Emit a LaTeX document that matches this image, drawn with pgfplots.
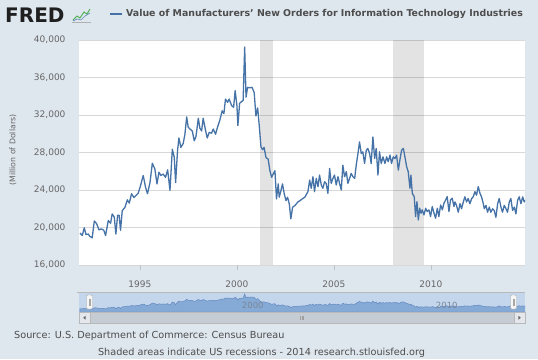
\documentclass[border=0pt]{standalone}
\usepackage{pgfplots}
\pgfplotsset{compat=1.18}
\usepackage{pgfplotstable}
\usepackage{fontspec}
\setmainfont{DejaVu Sans}
\definecolor{bgcol}{HTML}{DEE6EE}
\definecolor{linecol}{HTML}{4572A7}
\definecolor{gridcol}{HTML}{D8D8D8}
\definecolor{tickcol}{HTML}{666666}
\definecolor{titlecol}{HTML}{4D4D4D}
\definecolor{navbg}{HTML}{C3D6EC}
\definecolor{navfill}{HTML}{86AAD6}
\definecolor{navline}{HTML}{6489C0}
\definecolor{navtext}{HTML}{7A8796}
\definecolor{scrollcol}{HTML}{C6CCD3}
\definecolor{scrollbtn}{HTML}{E4E8EC}

\pgfplotstableread{
x y
1991.91 19400
1992.03 19150
1992.13 19970
1992.22 19250
1992.34 19300
1992.42 19050
1992.54 18900
1992.65 20700
1992.77 20400
1992.89 19750
1993.02 19850
1993.14 19700
1993.23 19150
1993.37 20750
1993.49 20450
1993.57 21450
1993.68 21100
1993.76 19300
1993.85 21300
1993.93 21300
1994.00 19700
1994.09 21800
1994.23 22150
1994.35 22950
1994.45 22600
1994.57 23600
1994.69 23200
1994.79 23400
1994.91 23650
1995.03 24450
1995.17 25550
1995.29 24300
1995.39 23600
1995.52 24800
1995.64 26850
1995.77 26250
1995.88 24650
1995.98 25900
1996.08 25550
1996.20 25700
1996.32 25350
1996.43 26150
1996.55 23950
1996.67 28350
1996.77 27500
1996.84 24800
1996.94 28200
1997.01 29550
1997.11 28550
1997.23 28950
1997.32 29950
1997.41 31800
1997.49 30700
1997.58 30500
1997.70 30300
1997.80 29250
1997.89 29700
1998.01 31650
1998.09 30600
1998.18 30300
1998.26 31650
1998.39 30300
1998.47 29550
1998.57 30150
1998.69 30050
1998.78 30500
1998.90 29950
1999.00 30700
1999.12 31450
1999.24 32450
1999.33 32150
1999.41 33700
1999.52 33350
1999.60 33700
1999.73 33000
1999.83 32830
1999.91 34600
2000.00 33010
2000.05 30870
2000.14 33250
2000.25 33450
2000.32 33550
2000.40 39250
2000.47 33900
2000.55 34950
2000.66 34900
2000.78 34950
2000.89 34400
2000.98 31900
2001.07 32750
2001.15 30900
2001.24 28600
2001.32 28300
2001.40 28550
2001.50 27450
2001.61 27300
2001.70 26060
2001.79 25350
2001.87 25710
2001.96 26060
2002.04 23050
2002.13 24650
2002.18 23230
2002.27 23940
2002.35 24650
2002.44 23580
2002.53 22870
2002.61 23230
2002.70 22520
2002.78 20920
2002.87 22160
2002.99 22340
2003.13 22700
2003.25 22870
2003.37 23050
2003.50 23230
2003.60 23600
2003.66 23820
2003.75 25060
2003.83 24180
2003.92 25420
2004.00 23820
2004.09 25240
2004.18 24350
2004.26 25590
2004.35 24530
2004.43 24180
2004.52 24880
2004.60 24710
2004.69 23650
2004.78 26300
2004.86 24710
2004.95 25240
2005.03 25590
2005.12 24530
2005.21 25420
2005.29 24710
2005.38 24000
2005.46 26650
2005.55 25420
2005.64 25950
2005.72 24710
2005.81 25240
2005.89 25770
2005.98 25420
2006.07 25240
2006.15 26650
2006.24 27890
2006.32 29130
2006.41 27890
2006.49 28070
2006.58 26830
2006.67 28250
2006.75 28430
2006.84 27890
2006.92 26830
2007.01 29660
2007.10 27360
2007.18 28430
2007.27 25590
2007.35 28070
2007.44 26830
2007.53 27540
2007.63 26830
2007.72 27540
2007.80 27010
2007.89 27720
2007.97 26830
2008.06 27540
2008.15 27360
2008.23 27720
2008.32 26120
2008.40 27190
2008.49 28250
2008.58 28430
2008.66 27540
2008.75 26480
2008.83 25950
2008.92 24180
2008.97 25590
2009.04 23650
2009.14 23290
2009.21 21170
2009.28 22760
2009.35 20810
2009.42 22050
2009.49 21520
2009.55 21880
2009.64 21340
2009.73 22050
2009.81 21700
2009.90 21880
2009.98 21170
2010.07 22230
2010.16 21520
2010.24 20990
2010.33 22050
2010.41 21170
2010.50 22410
2010.59 21880
2010.67 22580
2010.76 22940
2010.84 23290
2010.93 21700
2011.01 22940
2011.10 23120
2011.19 22230
2011.24 22730
2011.32 22360
2011.41 21630
2011.50 22540
2011.58 22000
2011.67 22730
2011.75 23270
2011.84 22730
2011.92 23090
2012.01 22540
2012.10 23090
2012.18 23270
2012.27 23820
2012.35 23450
2012.44 24360
2012.53 23640
2012.61 23270
2012.70 22540
2012.75 22000
2012.84 22360
2012.92 21630
2013.01 22180
2013.09 21630
2013.18 22000
2013.26 21820
2013.35 21090
2013.44 22540
2013.52 23090
2013.61 22180
2013.69 21630
2013.78 22360
2013.87 22000
2013.95 21630
2014.04 22730
2014.12 23090
2014.21 21820
2014.30 22180
2014.38 21450
2014.47 22910
2014.55 23270
2014.64 22540
2014.73 23270
2014.81 22730
2014.88 22910
}\datatable

\begin{document}
\begin{tikzpicture}[x=1pt,y=1pt]
\useasboundingbox (0,0) rectangle (538,-359);
\fill[bgcol] (0,0) rectangle (538,-359);

% header
\node[anchor=west, inner sep=0pt, font=\fontsize{20}{22}\selectfont\bfseries, text=black!88] at (5,-15.5) {FRED};
\draw[gray!60, line width=0.4pt] (72,-22) -- (91,-22);
\draw[green!55!black!70, line width=0.9pt] (73,-20) -- (77,-16) -- (80,-18) -- (84,-12) -- (87,-14) -- (90,-9);
\draw[linecol!80, line width=0.7pt] (73,-21) -- (77,-19) -- (81,-20) -- (85,-16) -- (90,-13);
\draw[linecol, line width=1.8pt] (110,-14) -- (122,-14);
\node[anchor=west, inner sep=0pt, font=\fontsize{9.4}{11}\selectfont\bfseries, text=titlecol] at (126,-14) {Value of Manufacturers' New Orders for Information Technology Industries};

\begin{axis}[
  at={(79pt,-265pt)}, anchor=south west,
  scale only axis, width=446pt, height=225pt,
  xmin=1991.86, xmax=2014.85, ymin=16000, ymax=40000,
  ytick={16000,20000,...,40000},
  xtick={1995,2000,2005,2010},
  axis line style={draw=none},
  axis background/.style={fill=white},
  ymajorgrids, grid style={gridcol, line width=0.9pt},
  ytick style={draw=none},
  xtick style={draw=gridcol!80!linecol, line width=0.6pt},
  tick align=outside, tick pos=left, major tick length=5pt,
  scaled y ticks=false,
  /pgf/number format/assume math mode=true,
  yticklabel style={font=\fontsize{9}{10}\selectfont, text=tickcol, /pgf/number format/1000 sep={,}, xshift=-5pt},
  xticklabel style={font=\fontsize{9}{10}\selectfont, text=tickcol, /pgf/number format/1000 sep={}, yshift=-7pt},
  ylabel={(Million of Dollars)},
  every axis y label/.style={at={([xshift=-66pt]rel axis cs:0,0.511)}, rotate=90, anchor=center, font=\fontsize{7.8}{9}\selectfont, text=tickcol},
  clip=true,
]
\addplot[draw=none, fill=black, fill opacity=0.11] coordinates {(2001.19,16000) (2001.19,40000) (2001.84,40000) (2001.84,16000)} -- cycle;
\addplot[draw=none, fill=black, fill opacity=0.11] coordinates {(2008.06,16000) (2008.06,40000) (2009.62,40000) (2009.62,16000)} -- cycle;
\addplot[linecol, line width=1.3pt, line join=round] table[x=x,y=y] {\datatable};
\end{axis}

% navigator
\begin{axis}[
  at={(79pt,-312pt)}, anchor=south west,
  scale only axis, width=446pt, height=20pt,
  xmin=1991.86, xmax=2014.85, ymin=15000, ymax=41700,
  axis line style={draw=none}, ticks=none,
  axis background/.style={fill=navbg},
  clip=true,
]
\addplot[fill=navfill, draw=navline, line width=0.5pt] table[x=x,y=y] {\datatable} \closedcycle;
\node[anchor=west, inner sep=0pt, font=\fontsize{8.5}{9}\selectfont, text=navtext] at (axis cs:2000.25,24400) {2000};
\node[anchor=west, inner sep=0pt, font=\fontsize{8.5}{9}\selectfont, text=navtext] at (axis cs:2010.25,24400) {2010};
\end{axis}
\draw[gray!55, line width=0.6pt] (77,-292) -- (525,-292);
% handles
\filldraw[fill=gray!8, draw=gray!70, line width=0.4pt, rounded corners=1pt] (86.5,-295) rectangle (92.5,-309);
\draw[gray!70, line width=0.4pt] (88.8,-298.5) -- (88.8,-305.5) (90.2,-298.5) -- (90.2,-305.5);
\filldraw[fill=gray!8, draw=gray!70, line width=0.4pt, rounded corners=1pt] (510.5,-295) rectangle (516.5,-309);
\draw[gray!70, line width=0.4pt] (512.8,-298.5) -- (512.8,-305.5) (514.2,-298.5) -- (514.2,-305.5);
% scrollbar
\filldraw[fill=scrollcol, draw=gray!55, line width=0.4pt] (79,-312) rectangle (525,-323.5);
\filldraw[fill=scrollbtn, draw=gray!55, line width=0.4pt] (79,-312) rectangle (90,-323.5);
\filldraw[fill=scrollbtn, draw=gray!55, line width=0.4pt] (514,-312) rectangle (525,-323.5);
\fill[gray!80!black] (83.2,-317.75) -- (85.6,-315.8) -- (85.6,-319.7) -- cycle;
\fill[gray!80!black] (520.8,-317.75) -- (518.4,-315.8) -- (518.4,-319.7) -- cycle;
\draw[gray!75, line width=0.5pt] (300.5,-315.5) -- (300.5,-320) (302,-315.5) -- (302,-320) (303.5,-315.5) -- (303.5,-320);

% footer
\node[anchor=west, inner sep=0pt, font=\fontsize{9.7}{11}\selectfont, text=titlecol] at (14,-336) {Source: U.S. Department of Commerce: Census Bureau};
\node[anchor=center, inner sep=0pt, font=\fontsize{9.7}{11}\selectfont, text=titlecol] at (261.5,-352.5) {Shaded areas indicate US recessions - 2014 research.stlouisfed.org};
\end{tikzpicture}
\end{document}
